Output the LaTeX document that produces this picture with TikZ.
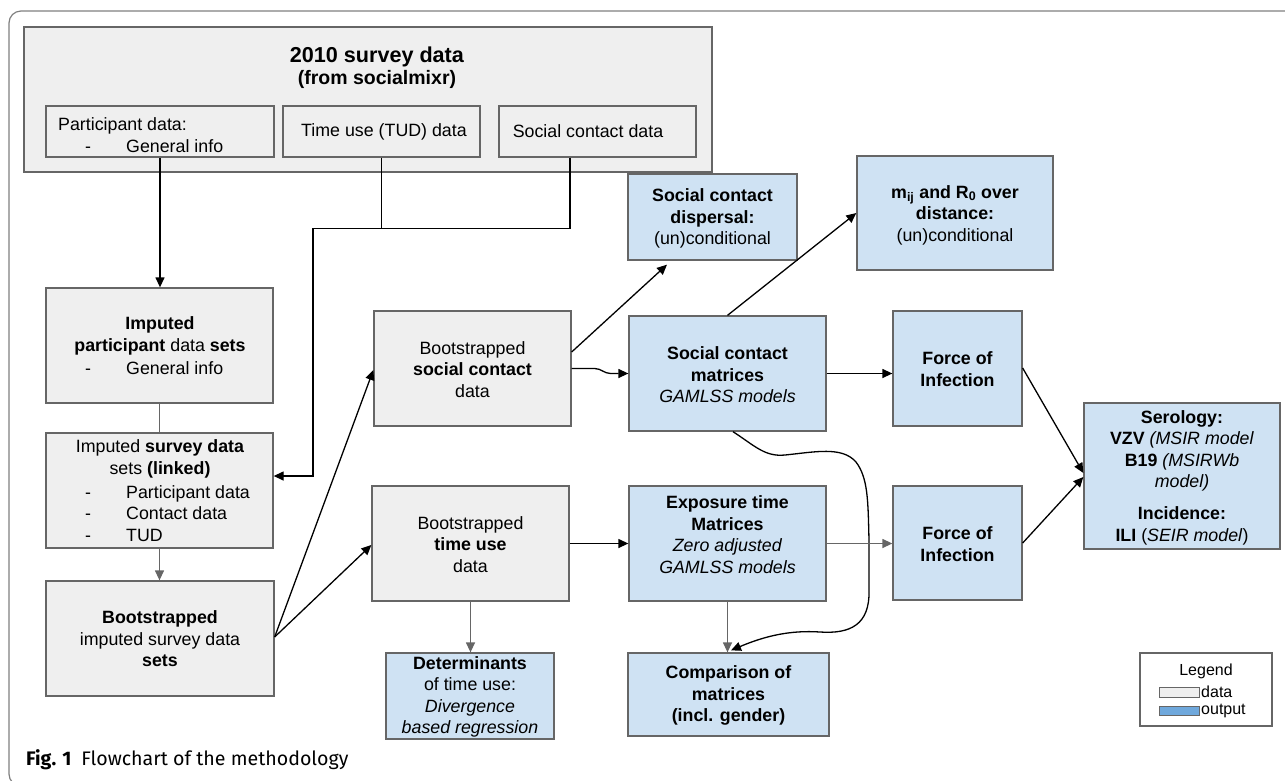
\documentclass[tikz,border=0pt]{standalone}
\usepackage{fontspec}
\setmainfont{Liberation Sans}
\newfontfamily\capfont{Fira Sans}
\usetikzlibrary{arrows.meta}
\definecolor{gfill}{HTML}{EFEFEF}
\definecolor{bfill}{HTML}{CFE2F3}
\definecolor{bord}{HTML}{666666}
\definecolor{lgblue}{HTML}{6FA8DC}
\definecolor{framecol}{HTML}{7F7F7F}
\newcommand\mkbox[6]{%
  \pgfmathsetmacro\bw{#4-#2}\pgfmathsetmacro\bh{#5-#3}%
  \node[#6, minimum width=\bw pt, minimum height=\bh pt] (#1) at ({(#2+#4)/2},{(#3+#5)/2}) {};}
\newcommand\litem[1]{\hspace*{27pt}\makebox[41pt][l]{-}#1}
\begin{document}
\begin{tikzpicture}[x=1pt,y=-1pt, font=\fontsize{17.8}{21.5}\selectfont,
  gbox/.style={draw=bord, fill=gfill, line width=1.3pt, inner sep=0},
  bbox/.style={draw=bord, fill=bfill, line width=1.3pt, inner sep=0},
  txt/.style={align=center, inner sep=0},
  ltxt/.style={align=left, inner sep=0, anchor=west},
  conn/.style={line width=1.3pt, draw=black, -{Triangle[length=10pt,width=9pt]}},
  gconn/.style={line width=1.3pt, draw=bord, -{Triangle[length=10pt,width=9pt]}},
  plain/.style={line width=1.3pt, draw=black},
  gplain/.style={line width=1.3pt, draw=bord}]
\useasboundingbox (0,0) rectangle (1285,780);
% outer frame
\draw[framecol, line width=1.2pt, rounded corners=12pt] (1300,11) -- (9,11) -- (9,786) -- (40,786);

% top big box
\mkbox{big}{24}{27}{712}{172}{gbox}
\node[txt] (t-big) at (377,67.5) {\fontsize{21.6}{25}\selectfont\textbf{2010 survey data}\\\fontsize{19.5}{25}\selectfont\textbf{(from socialmixr)}};
\mkbox{part}{46}{106}{274}{157}{gbox}
\node[ltxt] (t-part) at (58,135) {Participant data:\\\litem{General info}};
\mkbox{tu}{283}{106}{480}{157}{gbox}
\node[txt] (t-tu) at (384,131.5) {Time use (TUD) data};
\mkbox{sc}{499}{106}{696}{157}{gbox}
\node[txt] (t-sc) at (588,131.5) {Social contact data};

% left column
\mkbox{impart}{46}{288}{273}{403}{gbox}
\node[txt] (t-impart) at (160,336) {\textbf{Imputed}\\\textbf{participant} data \textbf{sets}};
\node[ltxt] (l-impart) at (58,368) {\litem{General info}};
\mkbox{impsurv}{46}{433}{273}{548}{gbox}
\node[txt] (t-impsurv) at (160,459) {Imputed \textbf{survey data}\\sets \textbf{(linked)}};
\node[ltxt] (l-impsurv) at (58,513.5) {\litem{Participant data}\\\litem{Contact data}\\\litem{TUD}};
\mkbox{bootimp}{46}{581}{274}{696}{gbox}
\node[txt] (t-bootimp) at (160,639) {\textbf{Bootstrapped}\\imputed survey data\\\textbf{sets}};

% middle column
\mkbox{bsc}{374}{311}{571}{426}{gbox}
\node[txt] (t-bsc) at (472.5,369.5) {Bootstrapped\\\textbf{social contact}\\data};
\mkbox{btu}{372}{486}{569}{601}{gbox}
\node[txt] (t-btu) at (470.5,544.5) {Bootstrapped\\\textbf{time use}\\data};
\mkbox{det}{386}{653}{554}{739}{bbox}
\node[txt] (t-det) at (470,697) {\textbf{Determinants}\\of time use:\\\textit{Divergence}\\\textit{based regression}};

% right columns
\mkbox{disp}{628}{174}{797}{260}{bbox}
\node[txt] (t-disp) at (712.5,218.5) {\textbf{Social contact}\\\textbf{dispersal:}\\(un)conditional};
\mkbox{mij}{857}{156}{1053}{270}{bbox}
\node[txt] (t-mij) at (955,215) {\textbf{m\textsubscript{ij} and R\textsubscript{0} over}\\\textbf{distance:}\\(un)conditional};
\mkbox{scm}{629}{316}{826}{431}{bbox}
\node[txt] (t-scm) at (727.5,375) {\textbf{Social contact}\\\textbf{matrices}\\\textit{GAMLSS models}};
\mkbox{exp}{629}{486}{826}{601}{bbox}
\node[txt] (t-exp) at (727.5,534.5) {\textbf{Exposure time}\\\textbf{Matrices}\\\textit{Zero adjusted}\\\textit{GAMLSS models}};
\mkbox{cmp}{628}{653}{829}{736}{bbox}
\node[txt] (t-cmp) at (728.5,695.5) {\textbf{Comparison of}\\\textbf{matrices}\\\textbf{(incl. gender)}};
\mkbox{foi1}{893}{311}{1022}{426}{bbox}
\node[txt] (t-foi1) at (957.5,369) {\textbf{Force of}\\\textbf{Infection}};
\mkbox{foi2}{893}{486}{1022}{600}{bbox}
\node[txt] (t-foi2) at (957.5,544) {\textbf{Force of}\\\textbf{Infection}};
\mkbox{ser}{1084}{403}{1280}{549}{bbox}
\node[txt] (t-ser) at (1182,477.5) {\textbf{Serology:}\\\textbf{VZV} \textit{(MSIR model}\\\textbf{B19} \textit{(MSIRWb}\\\textit{model)}\\[10.5pt]\textbf{Incidence:}\\\textbf{ILI} (\textit{SEIR model})};

% legend
\mkbox{leg}{1140}{653}{1272}{726}{draw=bord, fill=white, line width=1.3pt, inner sep=0}
\node[txt, font=\fontsize{16}{19}\selectfont] (t-leg) at (1206,671) {Legend};
\mkbox{swd}{1159}{687}{1199}{697}{draw=bord, fill=gfill, line width=1pt, inner sep=0}
\mkbox{swo}{1159}{706}{1199}{715}{draw=bord, fill=lgblue, line width=1pt, inner sep=0}
\node[ltxt, font=\fontsize{16}{19}\selectfont] (t-swd) at (1201,692) {data};
\node[ltxt, font=\fontsize{16}{19}\selectfont] (t-swo) at (1201,711) {output};

% caption
\node[anchor=west, inner sep=0, font=\capfont\fontsize{19.6}{22}\selectfont] (cap) at (26,760) {\textbf{Fig. 1}\enspace Flowchart of the methodology};

% connectors
\draw[conn] (part.south) -- (part.south |- impart.north);
\coordinate (j2) at (313,228);
\coordinate (j3) at (313,476);
\draw[plain] (tu.south) -- (tu.south |- j2);
\draw[conn] ([xshift=-27.5pt]sc.south) -- ++(0,71) -| (j3) -- (j3 -| impsurv.east);
\draw[gplain] (impart.south) -- (impart.south |- impsurv.north);
\draw[gconn] (impsurv.south) -- (impsurv.south |- bootimp.north);
\draw[conn] ([yshift=1.5pt]bootimp.east) -- ([yshift=-1.5pt]bsc.west);
\draw[conn] ([yshift=1.5pt]bootimp.east) -- ([yshift=-1.5pt]btu.west);
\draw[conn] ([yshift=16.5pt]bsc.east) -- ([xshift=-45.5pt,yshift=-4pt]disp.south);
\draw[conn] (bsc.east) -- ++(23,0) to[out=0,in=180] ++(16,5) -- (scm.west);
\draw[conn] (scm.north) -- (mij.west);
\draw[conn] (scm.east) -- (scm.east -| foi1.west);
\draw[conn] ([xshift=5.5pt]scm.south) .. controls (755,446) and (765,457) .. (785,455)
  .. controls (815,452) and (842,446) .. (856,462)
  .. controls (868,478) and (868,500) .. (869,540)
  -- (869,590) .. controls (870,625) and (850,634) .. (820,632)
  .. controls (790,630) and (765,636) .. ([xshift=2.5pt,yshift=2pt]cmp.north);
\draw[conn] (btu.east) -- (btu.east -| exp.west);
\draw[gconn] (exp.east) -- (exp.east -| foi2.west);
\draw[gconn] (exp.south) -- (exp.south |- cmp.north);
\draw[gconn] (btu.south) -- (btu.south |- det.north);
\draw[conn] ([yshift=0.5pt]foi1.east) -- ([yshift=3pt]ser.west);
\draw[conn] (foi2.east) -- ([yshift=-1pt]ser.west);
\end{tikzpicture}
\end{document}
